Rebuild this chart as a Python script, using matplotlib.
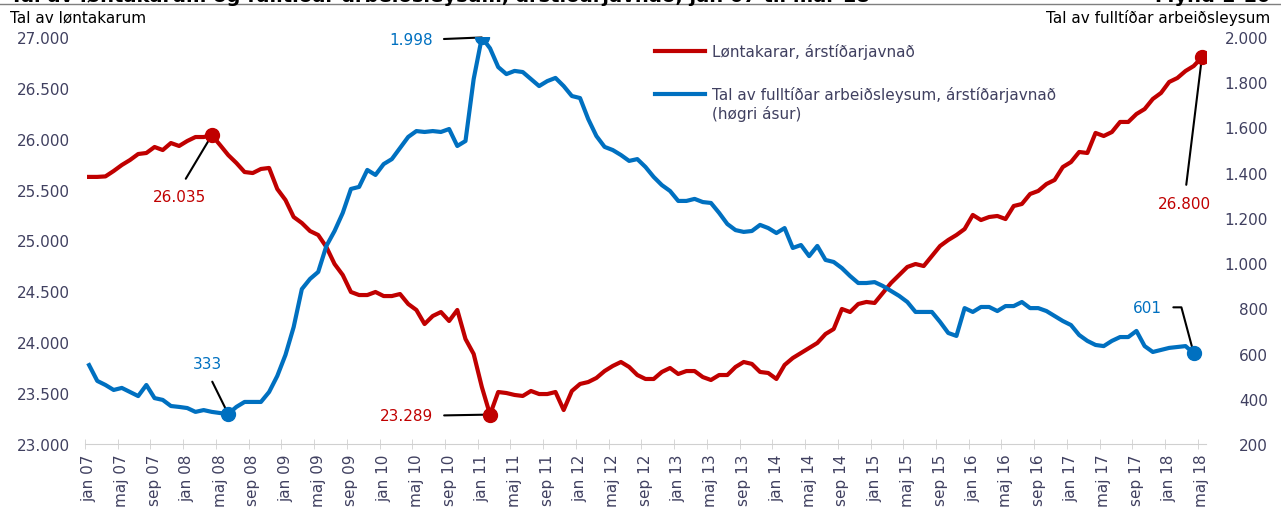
import matplotlib.pyplot as plt
from matplotlib.lines import Line2D
from matplotlib.ticker import FuncFormatter

# Monthly, seasonally adjusted, jan 07 - maj 18
months = ['jan', 'feb', 'mar', 'apr', 'maj', 'jun', 'jul', 'aug', 'sep', 'okt', 'nov', 'des']
periods = [f'{m} {y % 100:02d}' for y in range(2007, 2019) for m in months][:137]

# Løntakarar (left axis)
employees = [
    25625, 25625, 25630, 25683, 25742, 25791, 25850, 25860, 25919, 25889,
    25958, 25929, 25978, 26017, 26017, 26035, 25939, 25840, 25762, 25673,
    25663, 25703, 25713, 25506, 25398, 25231, 25172, 25093, 25054, 24936,
    24769, 24661, 24494, 24464, 24464, 24494, 24454, 24454, 24474, 24376,
    24317, 24179, 24258, 24297, 24209, 24317, 24032, 23885, 23560, 23289,
    23511, 23501, 23482, 23472, 23521, 23491, 23491, 23511, 23334, 23521,
    23590, 23609, 23649, 23717, 23767, 23806, 23757, 23678, 23639, 23639,
    23708, 23747, 23688, 23717, 23717, 23658, 23629, 23678, 23678, 23757,
    23806, 23787, 23708, 23698, 23639, 23777, 23845, 23894, 23943, 23993,
    24081, 24130, 24327, 24297, 24376, 24396, 24386, 24484, 24582, 24661,
    24740, 24769, 24749, 24848, 24946, 25005, 25054, 25113, 25251, 25201,
    25231, 25241, 25211, 25339, 25359, 25457, 25487, 25555, 25595, 25722,
    25771, 25870, 25860, 26057, 26027, 26066, 26165, 26165, 26243, 26292,
    26391, 26450, 26558, 26597, 26666, 26715, 26800,
]

# Fulltíðar arbeiðsleys (right axis)
unemployed = [
    549, 479, 461, 439, 448, 430, 412, 461, 403, 395,
    368, 364, 359, 342, 350, 342, 337, 333, 364, 386,
    386, 386, 430, 501, 594, 717, 885, 930, 961, 1076,
    1142, 1222, 1328, 1337, 1412, 1390, 1438, 1460, 1509, 1558,
    1584, 1580, 1584, 1580, 1593, 1518, 1540, 1814, 1998, 1950,
    1867, 1836, 1850, 1845, 1814, 1783, 1805, 1819, 1783, 1739,
    1730, 1637, 1562, 1514, 1500, 1478, 1452, 1460, 1425, 1381,
    1345, 1319, 1275, 1275, 1284, 1270, 1266, 1222, 1173, 1146,
    1138, 1142, 1169, 1155, 1133, 1155, 1067, 1080, 1031, 1076,
    1014, 1005, 978, 943, 912, 912, 916, 899, 877, 855,
    828, 784, 784, 784, 740, 691, 678, 801, 784, 806,
    806, 788, 810, 810, 828, 801, 801, 788, 766, 744,
    726, 682, 656, 638, 633, 656, 673, 673, 700, 633,
    607, 616, 625, 629, 633, 601,
]

red = '#c00000'
blue = '#0070c0'
txt = '#404060'
W, H = 1281, 510

plt.rcParams['font.family'] = ['DejaVu Sans']
fig = plt.figure(figsize=(W / 100, H / 100), dpi=100)
ax = fig.add_axes([85 / W, 1 - 445 / H, (1206 - 85) / W, (445 - 38) / H])
ax2 = ax.twinx()

x_emp = list(range(len(employees)))
x_unemp = list(range(len(unemployed)))
ax.plot(x_emp, employees, color=red, lw=3, solid_joinstyle='round')
ax2.plot(x_unemp, unemployed, color=blue, lw=3, solid_joinstyle='round')

ax.set_xlim(-0.5, len(periods) - 0.5)
ax.set_ylim(23000, 27000)
ax.set_yticks(range(23000, 27001, 500))
ax2.set_ylim(200, 2000)
ax2.set_yticks(range(200, 2001, 200))

thousands = FuncFormatter(lambda v, p: f'{v:,.0f}'.replace(',', '.'))
ax.yaxis.set_major_formatter(thousands)
ax2.yaxis.set_major_formatter(thousands)

ax.set_xticks(range(0, len(periods), 4))
ax.set_xticklabels(periods[::4], rotation=90, fontsize=11, color=txt)
ax.set_xticks([k - 0.5 for k in range(0, len(periods), 4)], minor=True)
ax.tick_params(axis='x', which='major', length=0, pad=7)
ax.tick_params(axis='x', which='minor', length=6.5, direction='inout', color='#d0d0d0')
ax.tick_params(axis='y', length=0, pad=11, labelsize=11, labelcolor=txt)
ax2.tick_params(axis='y', length=0, pad=44.6, labelsize=11, labelcolor=txt)
for lab in ax2.get_yticklabels():
    lab.set_horizontalalignment('right')

for a in (ax, ax2):
    for s in a.spines.values():
        s.set_visible(False)
ax.spines['bottom'].set_visible(True)
ax.spines['bottom'].set_color('#d0d0d0')

# highlighted points
marks = [
    (ax, 15, employees[15], red, (-32, -61), 'center', (0.5, 1.0), 'arc3'),
    (ax, 49, employees[49], red, (-57, -1), 'right', (1.0, 0.5), 'arc3'),
    (ax, 136, employees[136], red, (-17, -146), 'center', (0.5, 1.0), 'arc3'),
    (ax2, 17, unemployed[17], blue, (-21, 50), 'center', (0.5, 0.0), 'arc3'),
    (ax2, 48, unemployed[48], blue, (-49, -2), 'right', (1.0, 0.5), 'arc3'),
    (ax2, 135, unemployed[135], blue, (-46, 46), 'center', (1.0, 0.5),
     'angle,angleA=0,angleB=105,rad=0'),
]
for a, i, v, c, off, ha, rp, cs in marks:
    a.plot([i], [v], 'o', color=c, ms=10, zorder=5)
    a.annotate(f'{v:,.0f}'.replace(',', '.'), xy=(i, v), xytext=off,
               textcoords='offset pixels', ha=ha, va='center', color=c, fontsize=11,
               arrowprops=dict(arrowstyle='-', color='black', lw=1.5, relpos=rp,
                               shrinkA=6, shrinkB=0, connectionstyle=cs))

# legend
fig.add_artist(Line2D([655 / W, 705 / W], [1 - 52 / H] * 2, color=red, lw=3))
fig.add_artist(Line2D([655 / W, 705 / W], [1 - 95 / H] * 2, color=blue, lw=3))
fig.text(712 / W, 1 - 52 / H, 'Løntakarar, árstíðarjavnað', va='center', fontsize=11, color=txt)
fig.text(712 / W, 1 - 87 / H, 'Tal av fulltíðar arbeiðsleysum, árstíðarjavnað\n(høgri ásur)',
         va='top', fontsize=11, color=txt, linespacing=1.25)

# axis titles and heading (cut off at the top edge, as in the original)
fig.text(10 / W, 1 - 18 / H, 'Tal av løntakarum', va='center', fontsize=11, color='black')
fig.text(1270 / W, 1 - 18 / H, 'Tal av fulltíðar arbeiðsleysum', va='center', ha='right',
         fontsize=11, color='black')
fig.text(10 / W, 1 - 2.5 / H,
         'Tal av løntakarum og fulltíðar arbeiðsleysum, árstíðarjavnað, jan 07 til mar 18',
         va='baseline', fontsize=14, fontweight='bold')
fig.text(1270 / W, 1 - 2.5 / H, 'Mynd 1-10', va='baseline', ha='right', fontsize=14,
         fontweight='bold')
fig.add_artist(Line2D([0, 1], [1 - 5 / H] * 2, color='#7f7f7f', lw=1))

fig.savefig('out.png', dpi=100)
